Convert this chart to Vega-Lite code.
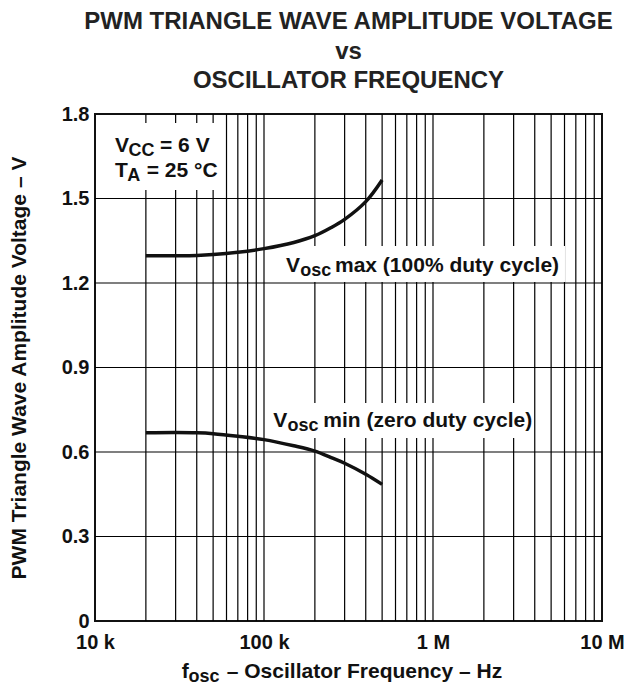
{
  "$schema": "https://vega.github.io/schema/vega-lite/v6.json",
  "width": 507,
  "height": 507,
  "autosize": {"type": "none"},
  "padding": {"left": 95, "top": 114, "right": 22, "bottom": 65},
  "background": "white",
  "title": {
    "text": ["PWM TRIANGLE WAVE AMPLITUDE VOLTAGE", "vs", "OSCILLATOR FREQUENCY"],
    "fontSize": 24,
    "fontWeight": "bold",
    "font": "Liberation Sans",
    "color": "#222222",
    "lineHeight": 29.5,
    "anchor": "middle",
    "frame": "group",
    "offset": 11
  },
  "config": {
    "font": "Liberation Sans",
    "view": {"stroke": "#111111", "strokeWidth": 2},
    "axis": {
      "grid": false,
      "ticks": false,
      "tickSize": 0,
      "domain": false,
      "labelFont": "Liberation Sans",
      "labelFontSize": 20,
      "labelFontWeight": "bold",
      "labelColor": "#111111",
      "titleFont": "Liberation Sans",
      "titleFontWeight": "bold",
      "titleColor": "#111111"
    }
  },
  "datasets": {
    "vgrid": [
      {"gx": 20000}, {"gx": 30000}, {"gx": 40000}, {"gx": 50000}, {"gx": 60000}, {"gx": 70000}, {"gx": 80000}, {"gx": 90000},
      {"gx": 100000}, {"gx": 200000}, {"gx": 300000}, {"gx": 400000}, {"gx": 500000}, {"gx": 600000}, {"gx": 700000}, {"gx": 800000}, {"gx": 900000},
      {"gx": 1000000}, {"gx": 2000000}, {"gx": 3000000}, {"gx": 4000000}, {"gx": 5000000}, {"gx": 6000000}, {"gx": 7000000}, {"gx": 8000000}, {"gx": 9000000}
    ],
    "hgrid": [
      {"gy": 0.3}, {"gy": 0.6}, {"gy": 0.9}, {"gy": 1.2}, {"gy": 1.5}
    ],
    "curves": [
      {"series": "max", "f": 20000, "v": 1.297},
      {"series": "max", "f": 30000, "v": 1.297},
      {"series": "max", "f": 40000, "v": 1.298},
      {"series": "max", "f": 50000, "v": 1.301},
      {"series": "max", "f": 70000, "v": 1.309},
      {"series": "max", "f": 100000, "v": 1.322},
      {"series": "max", "f": 150000, "v": 1.344},
      {"series": "max", "f": 200000, "v": 1.368},
      {"series": "max", "f": 250000, "v": 1.397},
      {"series": "max", "f": 300000, "v": 1.426},
      {"series": "max", "f": 400000, "v": 1.489},
      {"series": "max", "f": 500000, "v": 1.566},
      {"series": "min", "f": 20000, "v": 0.668},
      {"series": "min", "f": 30000, "v": 0.669},
      {"series": "min", "f": 40000, "v": 0.668},
      {"series": "min", "f": 50000, "v": 0.665},
      {"series": "min", "f": 70000, "v": 0.656},
      {"series": "min", "f": 100000, "v": 0.644},
      {"series": "min", "f": 150000, "v": 0.622},
      {"series": "min", "f": 200000, "v": 0.603},
      {"series": "min", "f": 250000, "v": 0.580},
      {"series": "min", "f": 300000, "v": 0.560},
      {"series": "min", "f": 400000, "v": 0.521},
      {"series": "min", "f": 500000, "v": 0.485}
    ],
    "boxes": [
      {"b0": 10700, "b1": 54900, "w0": 1.53, "w1": 1.768},
      {"b0": 124400, "b1": 6040000, "w0": 1.2036, "w1": 1.331},
      {"b0": 103800, "b1": 3906000, "w0": 0.65, "w1": 0.774}
    ],
    "main": [
      {"f": 13130, "v": 1.666, "t": "V"},
      {"f": 24250, "v": 1.666, "t": "= 6 V"},
      {"f": 13130, "v": 1.577, "t": "T"},
      {"f": 20230, "v": 1.577, "t": "= 25 °C"},
      {"f": 134900, "v": 1.24, "t": "V"},
      {"f": 263100, "v": 1.24, "t": "max (100% duty cycle)"},
      {"f": 113500, "v": 0.69, "t": "V"},
      {"f": 224300, "v": 0.69, "t": "min (zero duty cycle)"},
      {"f": 32600, "v": -0.2024, "t": "f"},
      {"f": 60200, "v": -0.2024, "t": "– Oscillator Frequency – Hz"}
    ],
    "sub": [
      {"f": 15800, "v": 1.666, "t": "CC"},
      {"f": 15500, "v": 1.577, "t": "A"},
      {"f": 163700, "v": 1.24, "t": "osc"},
      {"f": 137800, "v": 0.69, "t": "osc"},
      {"f": 35700, "v": -0.2024, "t": "osc"}
    ]
  },
  "layer": [
    {
      "data": {"name": "vgrid"},
      "mark": {"type": "rule", "color": "#000000", "strokeWidth": 1.2},
      "encoding": {
        "x": {"field": "gx", "type": "quantitative", "scale": {"type": "log", "domain": [10000, 10000000], "nice": false}}
      }
    },
    {
      "data": {"name": "hgrid"},
      "mark": {"type": "rule", "color": "#000000", "strokeWidth": 1.2},
      "encoding": {
        "y": {"field": "gy", "type": "quantitative", "scale": {"domain": [0, 1.8], "nice": false, "zero": false}}
      }
    },
    {
      "data": {"name": "boxes"},
      "mark": {"type": "rect", "color": "#ffffff", "opacity": 1},
      "encoding": {
        "x": {"field": "b0", "type": "quantitative"},
        "x2": {"field": "b1"},
        "y": {"field": "w0", "type": "quantitative"},
        "y2": {"field": "w1"}
      }
    },
    {
      "data": {"name": "curves"},
      "mark": {"type": "line", "interpolate": "catmull-rom", "strokeWidth": 3.5, "color": "#111111"},
      "encoding": {
        "x": {
          "field": "f",
          "type": "quantitative",
          "scale": {"type": "log", "domain": [10000, 10000000], "nice": false},
          "axis": {
            "title": null,
            "values": [10000, 100000, 1000000, 10000000],
            "labelExpr": "datum.value == 10000 ? '10 k' : datum.value == 100000 ? '100 k' : datum.value == 1000000 ? '1 M' : '10 M'",
            "labelPadding": 11,
            "labelOverlap": false,
            "labelBound": false,
            "labelFlush": false
          }
        },
        "y": {
          "field": "v",
          "type": "quantitative",
          "scale": {"domain": [0, 1.8], "nice": false, "zero": false},
          "axis": {
            "title": "PWM Triangle Wave Amplitude Voltage – V",
            "titleFontSize": 21,
            "titlePadding": 32,
            "values": [0, 0.3, 0.6, 0.9, 1.2, 1.5, 1.8],
            "labelExpr": "datum.value == 0 ? '0' : format(datum.value, '.1f')",
            "labelPadding": 6
          }
        },
        "detail": {"field": "series"}
      }
    },
    {
      "data": {"name": "main"},
      "mark": {"type": "text", "align": "left", "baseline": "alphabetic", "fontSize": 21, "fontWeight": "bold", "color": "#111111"},
      "encoding": {
        "x": {"field": "f", "type": "quantitative"},
        "y": {"field": "v", "type": "quantitative"},
        "text": {"field": "t"}
      }
    },
    {
      "data": {"name": "sub"},
      "mark": {"type": "text", "align": "left", "baseline": "alphabetic", "fontSize": 18, "fontWeight": "bold", "dy": 4, "color": "#111111"},
      "encoding": {
        "x": {"field": "f", "type": "quantitative"},
        "y": {"field": "v", "type": "quantitative"},
        "text": {"field": "t"}
      }
    }
  ]
}
